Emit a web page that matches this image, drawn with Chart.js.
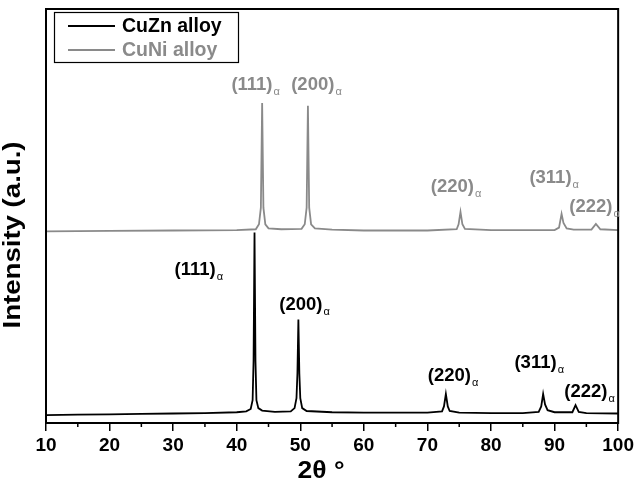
<!DOCTYPE html>
<html>
<head>
<meta charset="utf-8">
<script src="https://cdn.jsdelivr.net/npm/chart.js@4"></script>
<style>
  html, body { margin: 0; padding: 0; background: #fff; }
  #wrap { width: 637px; height: 494px; }
</style>
</head>
<body>
<div id="wrap"><canvas id="xrd"></canvas></div>
<script>
// 2theta (deg) and intensity (a.u.)
const cuZnAngle = [10, 15, 20, 25, 30, 35, 40, 41.5, 42.2, 42.5, 42.65, 42.8, 42.95, 43.1, 43.4, 44, 46, 48.5, 49.1, 49.4, 49.55, 49.7, 49.85, 50.0, 50.3, 51, 55, 60, 65, 70, 72.3, 72.6, 72.9, 73.2, 73.5, 75, 80, 85, 87.5, 87.9, 88.2, 88.5, 88.9, 90, 92.8, 93.3, 93.8, 95, 100];
const cuZnIntensity = [1.9, 2.0, 2.1, 2.2, 2.3, 2.4, 2.6, 2.8, 3.4, 5.5, 15, 46, 15, 5.5, 3.6, 3.0, 2.7, 2.8, 3.6, 6, 12, 25, 12, 6, 3.6, 2.9, 2.6, 2.5, 2.5, 2.5, 2.8, 4, 7, 4, 2.9, 2.5, 2.4, 2.4, 2.7, 4, 7, 4.5, 3.1, 2.6, 2.6, 4.3, 2.7, 2.4, 2.3];

const cuNiAngle = [10, 20, 30, 40, 43.0, 43.5, 43.8, 44.0, 44.2, 44.5, 45, 47, 50.2, 50.7, 51.0, 51.2, 51.4, 51.7, 52.3, 55, 60, 70, 74.6, 74.9, 75.2, 75.5, 75.9, 80, 90, 90.7, 91.1, 91.4, 91.9, 93, 95.8, 96.5, 97.2, 100];
const cuNiIntensity = [46.3, 46.4, 46.5, 46.6, 46.8, 48, 52, 77.3, 52, 48, 47, 46.8, 46.9, 48, 52, 76.6, 52, 48, 47, 46.7, 46.5, 46.5, 46.8, 48, 51, 48, 46.9, 46.6, 46.6, 47.2, 50.5, 48.3, 47, 46.7, 46.7, 48.1, 46.8, 46.6];

const xTicks = [10, 20, 30, 40, 50, 60, 70, 80, 90, 100];
const minorTicks = [15, 25, 35, 45, 55, 65, 75, 85, 95];

// peak labels: text, left edge (2theta), middle (intensity)
const cuNiLabels = ['(111)', '(200)', '(220)', '(311)', '(222)'];
const cuNiLabelX = [39.16, 48.57, 70.52, 86.04, 92.31];
const cuNiLabelY = [81.6, 81.6, 57.0, 59.2, 52.2];
const cuZnLabels = ['(111)', '(200)', '(220)', '(311)', '(222)'];
const cuZnLabelX = [30.23, 46.69, 70.05, 83.69, 91.53];
const cuZnLabelY = [37.0, 28.5, 11.4, 14.5, 7.5];

const seriesNames = ['CuZn alloy', 'CuNi alloy'];
const FONT = '"Liberation Sans", Arial, sans-serif';
const GRAY = '#8a8a8a';

const toPoints = (xs, ys) => xs.map((x, i) => ({ x: x, y: ys[i] }));

const decorations = {
  id: 'decorations',
  afterDraw(chart) {
    const ctx = chart.ctx;
    const area = chart.chartArea;
    const xs = chart.scales.x, ys = chart.scales.y;
    ctx.save();

    // frame
    ctx.strokeStyle = '#000';
    ctx.lineWidth = 2;
    ctx.strokeRect(area.left, area.top, area.right - area.left, area.bottom - area.top);

    // minor ticks
    ctx.lineWidth = 1.5;
    ctx.beginPath();
    minorTicks.forEach(v => {
      const px = xs.getPixelForValue(v);
      ctx.moveTo(px, area.bottom);
      ctx.lineTo(px, area.bottom + 4);
    });
    ctx.stroke();

    // peak labels
    const drawLabel = (txt, x, y, color) => {
      const px = xs.getPixelForValue(x), py = ys.getPixelForValue(y);
      ctx.fillStyle = color;
      ctx.textBaseline = 'middle';
      ctx.textAlign = 'left';
      ctx.font = 'bold 18.5px ' + FONT;
      ctx.fillText(txt, px, py);
      const w = ctx.measureText(txt).width;
      ctx.font = '11px ' + FONT;
      ctx.fillText('\u03b1', px + w + 1, py + 7);
    };
    cuNiLabels.forEach((t, i) => drawLabel(t, cuNiLabelX[i], cuNiLabelY[i], GRAY));
    cuZnLabels.forEach((t, i) => drawLabel(t, cuZnLabelX[i], cuZnLabelY[i], '#000'));

    // legend
    ctx.lineWidth = 1.2;
    ctx.strokeStyle = '#000';
    ctx.strokeRect(54.5, 12.5, 184, 50);
    const legendColors = ['#000', GRAY];
    const legendY = [26, 50];
    seriesNames.forEach((name, i) => {
      ctx.strokeStyle = legendColors[i];
      ctx.lineWidth = 1.8;
      ctx.beginPath();
      ctx.moveTo(68, legendY[i]);
      ctx.lineTo(115, legendY[i]);
      ctx.stroke();
      ctx.fillStyle = legendColors[i];
      ctx.font = 'bold 19.5px ' + FONT;
      ctx.textBaseline = 'middle';
      ctx.fillText(name, 122, legendY[i] + 1);
    });

    // axis titles
    ctx.fillStyle = '#000';
    ctx.textAlign = 'center';
    ctx.save();
    ctx.translate(321, 472);
    ctx.scale(1.15, 1);
    ctx.font = 'bold 23px ' + FONT;
    ctx.fillText('2\u03b8 \u00b0', 0, 0);
    ctx.restore();
    ctx.save();
    ctx.translate(14, 235);
    ctx.rotate(-Math.PI / 2);
    ctx.scale(1.2, 1);
    ctx.font = 'bold 23px ' + FONT;
    ctx.fillText('Intensity (a.u.)', 0, 0);
    ctx.restore();

    ctx.restore();
  }
};

new Chart(document.getElementById('xrd').getContext('2d'), {
  type: 'line',
  data: {
    datasets: [{
      label: seriesNames[0],
      data: toPoints(cuZnAngle, cuZnIntensity),
      borderColor: '#000',
      borderWidth: 1.8,
      pointRadius: 0,
      tension: 0
    }, {
      label: seriesNames[1],
      data: toPoints(cuNiAngle, cuNiIntensity),
      borderColor: GRAY,
      borderWidth: 1.8,
      pointRadius: 0,
      tension: 0
    }]
  },
  options: {
    responsive: true,
    maintainAspectRatio: false,
    animation: false,
    layout: { padding: { left: 46, top: 9, right: 17, bottom: 0 } },
    plugins: { legend: { display: false }, tooltip: { enabled: false } },
    scales: {
      x: {
        type: 'linear',
        min: 10,
        max: 100,
        afterFit: s => { s.height = 71; },
        afterBuildTicks: s => { s.ticks = xTicks.map(v => ({ value: v })); },
        grid: { drawOnChartArea: false, drawTicks: true, tickLength: 8, color: '#000', lineWidth: 1.5 },
        border: { display: true, color: '#000', width: 2 },
        ticks: { color: '#000', padding: 3, maxRotation: 0, font: { family: FONT, size: 19, weight: 'bold' } }
      },
      y: {
        display: false,
        min: 0,
        max: 100
      }
    }
  },
  plugins: [decorations]
});
</script>
</body>
</html>
